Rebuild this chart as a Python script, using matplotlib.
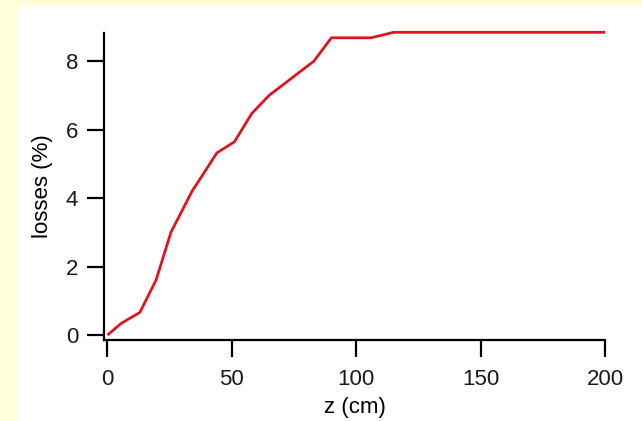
import matplotlib
matplotlib.use("Agg")
import matplotlib.pyplot as plt
from matplotlib.patches import Rectangle

z_cm = [0, 5.5, 13, 19.5, 25.5, 34, 44, 51, 58, 65, 74, 83, 90, 106, 115, 200]
losses_pct = [0, 0.34, 0.66, 1.6, 3.0, 4.2, 5.32, 5.64, 6.47, 7.0, 7.5, 8.0, 8.68, 8.68, 8.84, 8.84]
x_ticks = [0, 50, 100, 150, 200]
y_ticks = [0, 2, 4, 6, 8]

plt.rcParams['font.family'] = ['Liberation Sans', 'DejaVu Sans']

fig = plt.figure(figsize=(6.42, 4.21), dpi=100, facecolor='#FFFFD9')
bg = fig.add_axes([0, 0, 1, 1], zorder=-10)
bg.set_axis_off()
bg.add_patch(Rectangle((17/642, 0), 1 - 17/642, (421-6)/421,
                       transform=bg.transAxes, facecolor='white', edgecolor='none'))
ax = fig.add_axes([104/642, (421-339.6)/421, 501/642, (339.6-33)/421])
ax.set_facecolor('none')
ax.plot(z_cm, losses_pct, color='#E0141E', lw=2.0, solid_capstyle='butt', clip_on=False)
ax.set_xlim(-1.4, 200)
ax.set_ylim(-0.134, 8.82)
ax.set_xticks(x_ticks)
ax.set_yticks(y_ticks)
for s in ['top', 'right']:
    ax.spines[s].set_visible(False)
for s in ['left', 'bottom']:
    ax.spines[s].set_linewidth(1.6)
ax.tick_params(axis='both', direction='out', length=12.5, width=1.6, labelsize=16)
ax.tick_params(axis='y', pad=6)
ax.tick_params(axis='x', pad=9)
ax.set_xlabel('z (cm)', fontsize=16, labelpad=5)
ax.set_ylabel('losses (%)', fontsize=16, labelpad=9)
for lab in ax.get_xticklabels() + ax.get_yticklabels():
    lab.set_color('#1a1a1a')
fig.savefig('out.png', dpi=100, facecolor=fig.get_facecolor())
